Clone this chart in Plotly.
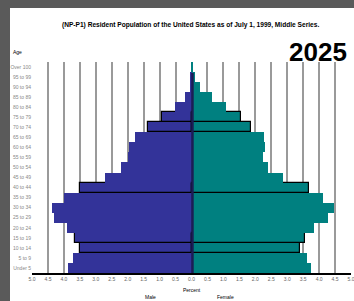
import plotly.graph_objects as go

ages = ["Under 5", "5 to 9", "10 to 14", "15 to 19", "20 to 24", "25 to 29",
        "30 to 34", "35 to 39", "40 to 44", "45 to 49", "50 to 54", "55 to 59",
        "60 to 64", "65 to 69", "70 to 74", "75 to 79", "80 to 84", "85 to 89",
        "90 to 94", "95 to 99", "Over 100"]
male = [3.87, 3.70, 3.51, 3.64, 3.91, 4.30, 4.36, 4.01, 3.51, 2.70, 2.22,
        1.98, 1.96, 1.77, 1.35, 0.93, 0.51, 0.21, 0.06, 0.03, 0.01]
female = [3.75, 3.61, 3.41, 3.55, 3.84, 4.29, 4.48, 4.11, 3.69, 2.87, 2.41,
          2.24, 2.31, 2.27, 1.87, 1.55, 1.08, 0.63, 0.26, 0.10, 0.02]
tick_vals = [-5.0, -4.5, -4.0, -3.5, -3.0, -2.5, -2.0, -1.5, -1.0, -0.5, 0.0,
             0.5, 1.0, 1.5, 2.0, 2.5, 3.0, 3.5, 4.0, 4.5, 5.0]
tick_text = ["5.0", "4.5", "4.0", "3.5", "3.0", "2.5", "2.0", "1.5", "1.0", "0.5",
             "0.0", "0.5", "1.0", "1.5", "2.0", "2.5", "3.0", "3.5", "4.0", "4.5", "5.0"]
title_text = "(NP-P1) Resident Population of the United States as of July 1, 1999, Middle Series."
year_text = "2025"

W, H = 354, 301
L, R, T, B = 32, 3, 62, 28
PW, PH = W - L - R, H - T - B


def px(x):
    return (x - L) / PW


def py(y):
    return (H - B - y) / PH


outlined = {"10 to 14", "15 to 19", "40 to 44", "70 to 74", "75 to 79"}
lw = [1.2 if a in outlined else 0 for a in ages]

fig = go.Figure()
fig.add_trace(go.Bar(y=ages, x=[-v for v in male], orientation="h", name="Male",
                     marker=dict(color="#333399", line=dict(color="#000000", width=lw))))
fig.add_trace(go.Bar(y=ages, x=female, orientation="h", name="Female",
                     marker=dict(color="#008080", line=dict(color="#000000", width=lw))))

fig.update_layout(
    width=W, height=H,
    margin=dict(l=L, r=R, t=T, b=B, autoexpand=False),
    paper_bgcolor="white", plot_bgcolor="white",
    barmode="relative", bargap=0,
    showlegend=False,
    font=dict(family="Liberation Sans, Arial, sans-serif"),
    xaxis=dict(range=[-5, 5], tickvals=tick_vals, ticktext=tick_text, automargin=False,
               ticklabeloverflow="allow",
               showgrid=True, gridcolor="#9a9a9a", gridwidth=1.5,
               zeroline=False, showline=True, linecolor="#000000", linewidth=1.5,
               ticks="", ticklen=0, tickfont=dict(size=5, color="#666666")),
    yaxis=dict(type="category", categoryorder="array", categoryarray=ages, automargin=False,
               showgrid=False, zeroline=False, showline=False, ticks="", ticklen=0,
               tickfont=dict(size=5, color="#888888"), range=[-0.5, 20.5]),
)

shapes = [
    dict(type="rect", xref="paper", yref="paper", x0=px(0), x1=px(10), y0=py(H), y1=py(0),
         fillcolor="#5a5a5a", line=dict(width=0), layer="above"),
    dict(type="rect", xref="paper", yref="paper", x0=px(0), x1=px(W), y0=py(8), y1=py(0),
         fillcolor="#5a5a5a", line=dict(width=0), layer="above"),
    dict(type="line", xref="x", yref="paper", x0=0.03, x1=0.03, y0=0, y1=py(73),
         line=dict(color="#1c1c55", width=2.5), layer="above"),
]
fig.update_layout(shapes=shapes)

ann = [
    dict(text="<b>" + title_text + "</b>", x=px(190), y=py(25), font=dict(size=6.6, color="#000000")),
    dict(text="<b>" + year_text + "</b>", x=px(318), y=py(52), font=dict(size=26, color="#000000")),
    dict(text="Age", x=px(17), y=py(52), font=dict(size=5, color="#000000")),
    dict(text="Percent", x=px(192), y=py(290), font=dict(size=5, color="#000000")),
    dict(text="Male", x=px(150), y=py(297), font=dict(size=5, color="#000000")),
    dict(text="Female", x=px(226), y=py(297), font=dict(size=5, color="#000000")),
]
for a in ann:
    a.update(xref="paper", yref="paper", showarrow=False, xanchor="center", yanchor="middle")
fig.update_layout(annotations=ann)

fig.write_html("out.html", config={"displayModeBar": False},
               post_script="document.body.style.margin='0';document.body.style.overflow='hidden';")
